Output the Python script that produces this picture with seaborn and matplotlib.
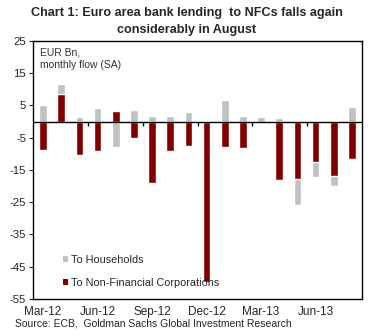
import matplotlib
matplotlib.use("Agg")
import matplotlib.pyplot as plt
import seaborn as sns
import pandas as pd
from matplotlib.patches import Patch

months = ["Mar-12", "Apr-12", "May-12", "Jun-12", "Jul-12", "Aug-12", "Sep-12", "Oct-12", "Nov-12",
          "Dec-12", "Jan-13", "Feb-13", "Mar-13", "Apr-13", "May-13", "Jun-13", "Jul-13", "Aug-13"]
households = [5.1, 11.6, 1.4, 4.2, -7.8, 3.6, 1.7, 1.7, 2.9,
              -2.0, 6.7, 1.7, 1.4, 1.1, -25.8, -17.1, -19.9, 4.5]
nfcs = [-8.8, 8.5, -10.4, -9.1, 3.3, -5.0, -19.0, -9.1, -7.5,
        -49.7, -7.8, -8.2, 0.0, -18.1, -17.8, -12.6, -16.9, -11.6]
tick_labels = ["Mar-12", "Jun-12", "Sep-12", "Dec-12", "Mar-13", "Jun-13"]
yticks = [25, 15, 5, -5, -15, -25, -35, -45, -55]

df = pd.DataFrame({"month": months, "Households": households, "NFCs": nfcs})

sns.set_style("white")
plt.rcParams["font.family"] = ["Liberation Sans", "DejaVu Sans"]

fig = plt.figure(figsize=(3.73, 3.36), dpi=100)
ax = fig.add_axes([33/373, 1-299/336, 329/373, 258/336])

sns.barplot(data=df, x="month", y="Households", order=months, color="#C0C0C0",
            width=0.42, ax=ax, saturation=1)
sns.barplot(data=df, x="month", y="NFCs", order=months, color="#800000",
            width=0.42, ax=ax, saturation=1)

ax.set_ylim(-55, 25)
ax.set_xlim(-0.55, 17.55)
ax.set_yticks(yticks)
ax.set_yticklabels([str(v) for v in yticks], fontsize=8.2)
pos = [months.index(m) for m in tick_labels]
ax.set_xticks(pos)
ax.set_xticklabels(tick_labels, fontsize=8.5)
ax.tick_params(axis="x", length=0, pad=5)
ax.tick_params(axis="y", length=3, width=0.8, direction="out", left=True, pad=2)
ax.set_xlabel("")
ax.set_ylabel("")

ax.axhline(0, color="black", lw=1.0, zorder=5)
for b in [2.5, 5.5, 8.5, 11.5, 14.5]:
    ax.vlines(b, -1.45, 0, color="black", lw=1.0, zorder=5)

for s in ax.spines.values():
    s.set_visible(True)
    s.set_color("black")
    s.set_linewidth(1.0)

ax.text(0.02, 0.975, "EUR Bn,\nmonthly flow (SA)", transform=ax.transAxes,
        ha="left", va="top", fontsize=7.5, color="#333333", linespacing=1.3)

handles = [Patch(facecolor="#C0C0C0", edgecolor="none", label="To Households"),
           Patch(facecolor="#800000", edgecolor="none", label="To Non-Financial Corporations")]
ax.legend(handles=handles, loc="center left", bbox_to_anchor=(0.091, 0.107), frameon=False,
          fontsize=7.8, handlelength=0.5, handleheight=0.55, handletextpad=0.25,
          labelspacing=1.2, borderpad=0, borderaxespad=0)

fig.text(0.5, 0.978, "Chart 1: Euro area bank lending  to NFCs falls again\nconsiderably in August",
         ha="center", va="top", fontsize=9.1, fontweight="bold", linespacing=1.5)
fig.text(15/373, 1-323/336, "Source: ECB,  Goldman Sachs Global Investment Research",
         ha="left", va="center", fontsize=7.5)

fig.savefig("out.png", dpi=100)
